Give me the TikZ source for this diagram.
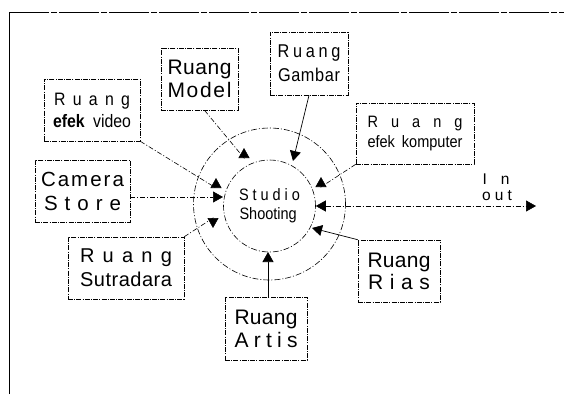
\documentclass[tikz,border=0pt]{standalone}
\usepackage{fontspec}
\setmainfont{Liberation Sans}
\newfontfamily\narrowfont[FakeStretch=0.88]{Liberation Sans}
\usetikzlibrary{arrows.meta}
\newcommand{\spr}[2]{\makebox[#1pt][s]{#2}}
\newcommand{\lsg}{\hfill}
\begin{document}
\begin{tikzpicture}[x=1pt,y=-1pt,
  room/.style={draw, line width=0.6pt, dash pattern=on 5pt off 1.2pt on 1pt off 1.2pt, inner sep=0pt, align=center},
  ring/.style={draw, circle, line width=0.6pt, dash pattern=on 6pt off 2pt on 1pt off 2pt, inner sep=0pt, align=center},
  link/.style={line width=0.6pt, dash pattern=on 5pt off 2pt on 1pt off 2pt},
  solidlink/.style={line width=0.7pt},
  head/.style={-{Triangle[length=10pt,width=11pt]}},
  lbl/.style={inner sep=0pt, font=\fontsize{15.5}{18}\selectfont},
]
\useasboundingbox (0,0) rectangle (564,394);
\draw[line width=0.8pt] (9,394) -- (9,12);
\draw[line width=0.8pt, dash pattern=on 40pt off 2pt on 6pt off 2pt] (9,12) -- (564,12);

\node[ring, minimum size=152] (outer) at (269.5,204) {};
\node[ring, minimum size=92, font=\narrowfont\fontsize{16.5}{19}\selectfont] (inner) at (269.5,206)
  {\spr{61}{S\lsg t\lsg u\lsg d\lsg i\lsg o}\\\spr{60}{Shooting}};

\node[room, minimum width=96, minimum height=62, font=\narrowfont\fontsize{18}{22}\selectfont] (ev) at (92,110)
  {\spr{76}{R\lsg u\lsg a\lsg n\lsg g}\\\spr{78}{\textbf{efek} video}};
\node[room, minimum width=77, minimum height=62, font=\fontsize{21}{23}\selectfont] (model) at (199.5,79)
  {\spr{64}{R\lsg u\lsg a\lsg n\lsg g}\\\spr{64}{M\lsg o\lsg d\lsg e\lsg l}};
\node[room, minimum width=78, minimum height=63, font=\narrowfont\fontsize{18.5}{24}\selectfont] (gambar) at (309,63.5)
  {\spr{63}{R\lsg u\lsg a\lsg n\lsg g}\\\spr{62}{G\lsg a\lsg m\lsg b\lsg a\lsg r}};
\node[room, minimum width=118, minimum height=61, font=\narrowfont\fontsize{16.5}{20}\selectfont] (ek) at (415,133.5)
  {\spr{95}{R\lsg u\lsg a\lsg n\lsg g}\\\spr{95}{efek komputer}};
\node[room, minimum width=95, minimum height=62, font=\fontsize{20.5}{24}\selectfont] (cam) at (82.5,191)
  {\spr{83}{C\lsg a\lsg m\lsg e\lsg r\lsg a}\\\spr{77}{S\lsg t\lsg o\lsg r\lsg e}};
\node[room, minimum width=116, minimum height=62, font=\fontsize{20}{24}\selectfont] (sut) at (126,268)
  {\spr{92}{R\lsg u\lsg a\lsg n\lsg g}\\\spr{92}{S\lsg u\lsg t\lsg r\lsg a\lsg d\lsg a\lsg r\lsg a}};
\node[room, minimum width=82, minimum height=63, font=\fontsize{21}{23}\selectfont] (artis) at (266,328.5)
  {\spr{63}{R\lsg u\lsg a\lsg n\lsg g}\\\spr{63}{A\lsg r\lsg t\lsg i\lsg s}};
\node[room, minimum width=82, minimum height=62, font=\fontsize{21}{22}\selectfont] (rias) at (399,271)
  {\spr{63}{R\lsg u\lsg a\lsg n\lsg g}\\\spr{62}{R\lsg i\lsg a\lsg s}};

\node[lbl] (inlbl) at (496,179) {\spr{27}{I\lsg n}};
\node[lbl] (outlbl) at (497,196) {\spr{30}{o\lsg u\lsg t}};

\coordinate (evp) at (216,188);
\coordinate (mp) at (244,158);
\coordinate (gt) at (293,161);
\coordinate (kp) at (321,187);
\coordinate (ct) at (223,197);
\coordinate (sp) at (213,218);
\coordinate (at) at (268,252);
\coordinate (rt) at (312,228);
\coordinate (oe) at (536,206);

\draw[link, head] (ev.south east) -- (evp) -- ++(0,-10);
\draw[link, head] ([xshift=5pt]model.south) -- (mp) -- ++(0,-10);
\draw[solidlink, head] (gambar.south) -- (gt);
\draw[link, head] (ek.south west) -- (kp) -- ++(0,-10);
\draw[link, head] (cam.east |- ct) -- (ct);
\draw[link, head] (sut.north east) -- (sp) -- ++(0,10);
\draw[solidlink, head] (artis.north -| at) -- (at);
\draw[solidlink, head] (rias.north west) -- (rt);
\draw[link, {Triangle[length=10pt,width=11pt]}-{Triangle[length=10pt,width=11pt]}] (inner.east) -- (oe);
\end{tikzpicture}
\end{document}
